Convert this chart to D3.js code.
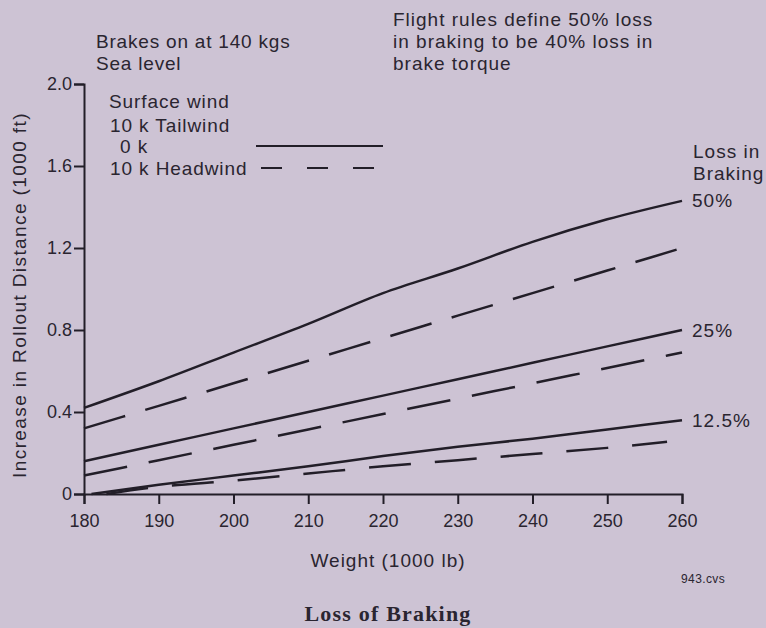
<!DOCTYPE html>
<html>
<head>
<meta charset="utf-8">
<script src="https://cdn.jsdelivr.net/npm/d3@7/dist/d3.min.js"></script>
<style>
  html, body { margin: 0; padding: 0; background: #cdc3d4; }
  svg { display: block; }
  text { font-family: "Liberation Sans", Arial, Helvetica, sans-serif; fill: #2a2530; }
</style>
</head>
<body>
<svg id="chart" width="766" height="628"></svg>
<script>
// Weight axis (1000 lb) and rollout-distance axis (1000 ft)
const weightTicks = [180, 190, 200, 210, 220, 230, 240, 250, 260];
const distanceTicks = [0, 0.4, 0.8, 1.2, 1.6, 2.0];
const distanceTickLabels = ["0", "0.4", "0.8", "1.2", "1.6", "2.0"];

// Weights at which each curve is read
const weights = [180, 190, 200, 210, 220, 230, 240, 250, 260];
const weights125Calm = [181, 190, 200, 210, 220, 230, 240, 250, 260];
const weights125Head = [183, 190, 200, 210, 220, 230, 240, 250, 258];

// Increase in rollout distance, 0 k wind (solid) and 10 k headwind (dashed)
const calm50 = [0.42, 0.55, 0.69, 0.83, 0.98, 1.10, 1.23, 1.34, 1.43];
const head50 = [0.32, 0.43, 0.54, 0.65, 0.76, 0.87, 0.98, 1.09, 1.20];
const calm25 = [0.16, 0.24, 0.32, 0.40, 0.48, 0.56, 0.64, 0.72, 0.80];
const head25 = [0.09, 0.165, 0.24, 0.315, 0.39, 0.465, 0.54, 0.615, 0.69];
const calm125 = [0, 0.045, 0.09, 0.135, 0.185, 0.23, 0.27, 0.315, 0.36];
const head125 = [0, 0.035, 0.065, 0.10, 0.135, 0.165, 0.195, 0.225, 0.255];

const lossLabels = ["50%", "25%", "12.5%"];
const legendTitle = "Surface wind";
const legendItems = ["10 k Tailwind", "0 k", "10 k Headwind"];

const svg = d3.select("#chart");
const ink = "#221e28";

const x = d3.scaleLinear().domain([180, 260]).range([84, 682]);
const y = d3.scaleLinear().domain([0, 2.0]).range([494, 84]);

// Axes
const xAxis = d3.axisBottom(x).tickValues(weightTicks).tickSize(10).tickSizeOuter(10).tickPadding(10)
  .tickFormat(d3.format("d"));
const yAxis = d3.axisLeft(y).tickValues(distanceTicks).tickSize(10).tickSizeOuter(10).tickPadding(2)
  .tickFormat((d, i) => distanceTickLabels[i]);

const gx = svg.append("g").attr("transform", `translate(0,${y(0)})`).call(xAxis);
const gy = svg.append("g").attr("transform", `translate(${x(180)},0)`).call(yAxis);
[gx, gy].forEach(g => {
  g.selectAll("path.domain").attr("stroke", ink).attr("stroke-width", 2).attr("fill", "none");
  g.selectAll(".tick line").attr("stroke", ink).attr("stroke-width", 2);
  g.selectAll(".tick text").attr("font-size", 18).attr("fill", "#2a2530")
    .attr("font-family", "Liberation Sans, Arial, sans-serif");
});

// Curves
const line = d3.line().x(d => x(d[0])).y(d => y(d[1])).curve(d3.curveMonotoneX);
const series = [
  { w: weights, v: calm50, dash: null },
  { w: weights, v: head50, dash: "43,21" },
  { w: weights, v: calm25, dash: null },
  { w: weights, v: head25, dash: "44,22" },
  { w: weights125Calm, v: calm125, dash: null },
  { w: weights125Head, v: head125, dash: "42,24" }
];
svg.append("g").selectAll("path").data(series).join("path")
  .attr("d", s => line(s.w.map((w, i) => [w, s.v[i]])))
  .attr("fill", "none")
  .attr("stroke", ink)
  .attr("stroke-width", 2.5)
  .attr("stroke-dasharray", s => s.dash);

// Loss-in-braking labels at the right-hand end of each solid curve
const lossEnds = [calm50, calm25, calm125].map(v => v[v.length - 1]);
svg.append("g").selectAll("text").data(lossLabels).join("text")
  .attr("x", x(260) + 10)
  .attr("y", (d, i) => y(lossEnds[i]) + 6.5)
  .attr("font-size", 19).attr("letter-spacing", 1)
  .text(d => d);

svg.append("text").attr("x", 693).attr("y", 158).attr("font-size", 19).attr("letter-spacing", 1).text("Loss in");
svg.append("text").attr("x", 693).attr("y", 180).attr("font-size", 19).attr("letter-spacing", 1).text("Braking");

// Notes
const noteLeft = ["Brakes on at 140 kgs", "Sea level"];
svg.append("g").selectAll("text").data(noteLeft).join("text")
  .attr("x", 96).attr("y", (d, i) => 48 + i * 22)
  .attr("font-size", 19).attr("letter-spacing", 0.8).text(d => d);

const noteRight = ["Flight rules define 50% loss", "in braking to be 40% loss in", "brake torque"];
svg.append("g").selectAll("text").data(noteRight).join("text")
  .attr("x", 393).attr("y", (d, i) => 26 + i * 22)
  .attr("font-size", 19).attr("letter-spacing", 1).text(d => d);

// Legend
const legend = svg.append("g");
legend.append("text").attr("x", 109).attr("y", 108).attr("font-size", 19).attr("letter-spacing", 0.9).text(legendTitle);
legend.append("text").attr("x", 110).attr("y", 132).attr("font-size", 19).attr("letter-spacing", 0.9).text(legendItems[0]);
legend.append("text").attr("x", 120).attr("y", 153).attr("font-size", 19).attr("letter-spacing", 0.9).text(legendItems[1]);
legend.append("text").attr("x", 110).attr("y", 175).attr("font-size", 19).attr("letter-spacing", 0.9).text(legendItems[2]);
legend.append("line").attr("x1", 256).attr("x2", 383).attr("y1", 146).attr("y2", 146)
  .attr("stroke", ink).attr("stroke-width", 2);
legend.append("line").attr("x1", 261).attr("x2", 375).attr("y1", 168).attr("y2", 168)
  .attr("stroke", ink).attr("stroke-width", 2).attr("stroke-dasharray", "21,25");

// Axis titles
svg.append("text").attr("transform", "translate(26,295) rotate(-90)")
  .attr("text-anchor", "middle").attr("font-size", 19).attr("letter-spacing", 1.4)
  .text("Increase in Rollout Distance (1000 ft)");
svg.append("text").attr("x", 388).attr("y", 567).attr("text-anchor", "middle")
  .attr("font-size", 19).attr("letter-spacing", 1).text("Weight (1000 lb)");

svg.append("text").attr("x", 681).attr("y", 583).attr("font-size", 12).attr("letter-spacing", 0.4).text("943.cvs");

svg.append("text").attr("x", 388).attr("y", 621).attr("text-anchor", "middle")
  .style("font-family", "Liberation Serif, 'Times New Roman', serif").attr("font-weight", "bold")
  .attr("font-size", 22).attr("letter-spacing", 1.2)
  .text("Loss of Braking");
</script>
</body>
</html>
